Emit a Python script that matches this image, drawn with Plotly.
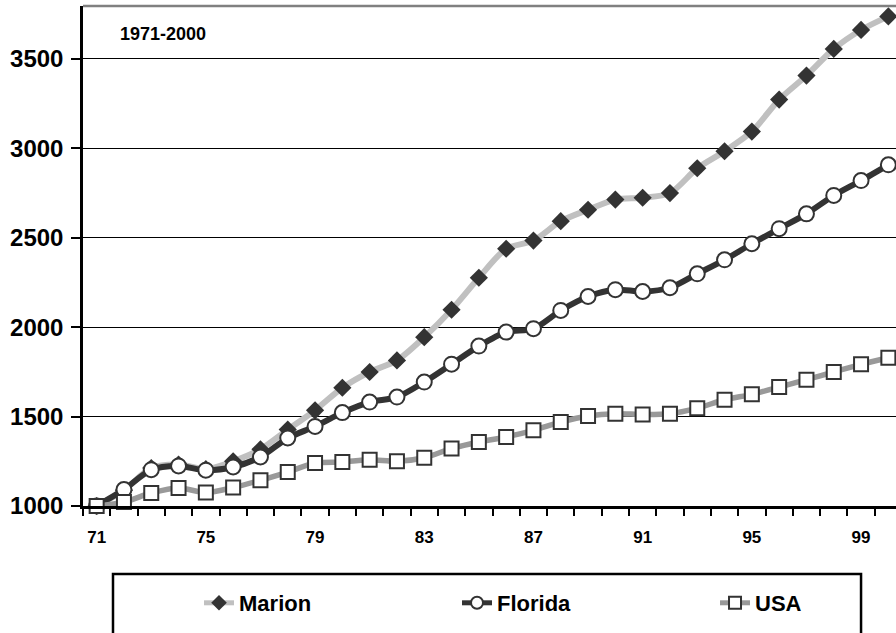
import plotly.graph_objects as go

years = list(range(71, 101))
marion = [1000, 1088, 1212, 1232, 1206, 1250, 1317, 1427, 1535, 1661,
          1749, 1814, 1944, 2097, 2276, 2438, 2484, 2592, 2656, 2713,
          2723, 2749, 2888, 2983, 3093, 3272, 3406, 3555, 3661, 3737]
florida = [1000, 1092, 1203, 1224, 1200, 1218, 1274, 1380, 1445, 1522,
           1581, 1609, 1693, 1793, 1894, 1972, 1991, 2093, 2171, 2209,
           2199, 2220, 2298, 2376, 2466, 2550, 2633, 2736, 2819, 2907]
usa = [1000, 1022, 1073, 1101, 1075, 1103, 1144, 1190, 1240, 1246,
       1259, 1250, 1270, 1321, 1358, 1386, 1423, 1469, 1503, 1516,
       1512, 1516, 1547, 1594, 1624, 1665, 1706, 1749, 1792, 1829]
x_tickvals = [71, 75, 79, 83, 87, 91, 95, 99]
x_ticktext = ["71", "75", "79", "83", "87", "91", "95", "99"]
y_tickvals = [1000, 1500, 2000, 2500, 3000, 3500]

FONT = "Liberation Sans, Arial, sans-serif"

fig = go.Figure()
fig.add_trace(go.Scatter(
    x=years, y=marion, name="Marion", mode="lines+markers",
    line=dict(color="#c0c0c0", width=6, shape="spline", smoothing=0.8),
    marker=dict(symbol="diamond", size=14, color="#333333",
                line=dict(width=0)),
    cliponaxis=False))
fig.add_trace(go.Scatter(
    x=years, y=florida, name="Florida", mode="lines+markers",
    line=dict(color="#333333", width=6, shape="spline", smoothing=0.8),
    marker=dict(symbol="circle", size=15, color="white",
                line=dict(width=2, color="#333333")),
    cliponaxis=False))
fig.add_trace(go.Scatter(
    x=years, y=usa, name="USA", mode="lines+markers",
    line=dict(color="#999999", width=5.5, shape="spline", smoothing=0.8),
    marker=dict(symbol="square", size=14, color="white",
                line=dict(width=2, color="#333333")),
    cliponaxis=False))

fig.update_layout(
    width=896, height=633,
    margin=dict(l=83, r=0, t=6, b=127, autoexpand=False),
    paper_bgcolor="white", plot_bgcolor="white",
    font=dict(family=FONT, color="black"),
    showlegend=True,
    legend=dict(orientation="h", x=0.1427, xanchor="left",
                y=-0.194, yanchor="middle",
                font=dict(family=FONT, size=22, weight="bold"),
                bgcolor="rgba(0,0,0,0)", borderwidth=0,
                entrywidth=213, entrywidthmode="pixels",
                itemsizing="constant"),
    xaxis=dict(range=[70.5, 100.28], tickmode="array",
               tickvals=x_tickvals, ticktext=x_ticktext,
               ticks="outside", ticklen=7, tickcolor="rgba(0,0,0,0)",
               ticklabelstandoff=7,
               tickfont=dict(family=FONT, size=17, weight="bold"),
               showgrid=False, zeroline=False,
               showline=True, linecolor="black", linewidth=2.5,
               minor=dict(tick0=70.5, dtick=1, ticks="outside",
                          ticklen=7, tickwidth=1.5, tickcolor="black",
                          showgrid=False)),
    yaxis=dict(range=[1000, 3795], tickmode="array",
               tickvals=y_tickvals,
               ticks="outside", ticklen=9, tickwidth=1.5, tickcolor="black",
               ticklabelstandoff=3,
               tickfont=dict(family=FONT, size=24, weight="bold"),
               showgrid=True, gridcolor="black", gridwidth=1.3,
               zeroline=False,
               showline=True, linecolor="black", linewidth=2.5),
)

fig.add_shape(type="line", xref="paper", yref="paper",
              x0=0, x1=1, y0=1, y1=1,
              line=dict(color="#808080", width=2.5), layer="above")
fig.add_shape(type="rect", xref="paper", yref="paper",
              x0=0.0369, x1=0.957, y0=-0.136, y1=-0.30,
              line=dict(color="black", width=2.5), fillcolor="rgba(0,0,0,0)")
fig.add_annotation(text="1971-2000", xref="paper", yref="paper",
                   x=0.043, y=0.944, xanchor="left", yanchor="middle",
                   showarrow=False,
                   font=dict(family=FONT, size=18, weight="bold", color="black"))

fig.write_html("out.html")
